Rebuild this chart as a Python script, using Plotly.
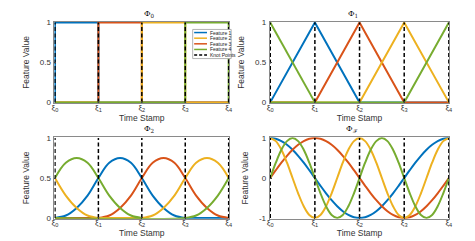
import plotly.graph_objects as go

# ---------------- data ----------------
knots = [0, 1, 2, 3, 4]
knot_labels = ["ξ<sub>0</sub>", "ξ<sub>1</sub>", "ξ<sub>2</sub>", "ξ<sub>3</sub>", "ξ<sub>4</sub>"]
feature_names = ["Feature 1", "Feature 2", "Feature 3", "Feature 4"]
feature_colors = ["#0072BD", "#EDB120", "#D95319", "#77AC30"]

# Phi_0 : piecewise constant (steps)
p0_f1_x = [0, 0, 1, 1, 4];       p0_f1_y = [0, 1, 1, 0, 0]
p0_f3_x = [0, 1, 1, 2, 2, 4];    p0_f3_y = [0, 0, 1, 1, 0, 0]
p0_f2_x = [0, 2, 2, 3, 3, 4];    p0_f2_y = [0, 0, 1, 1, 0, 0]
p0_f4_x = [0, 3, 3, 4, 4];       p0_f4_y = [0, 0, 1, 1, 0]

# Phi_1 : hat functions
p1_f1_x = [0, 1, 2, 4];          p1_f1_y = [0, 1, 0, 0]
p1_f3_x = [0, 1, 2, 3, 4];       p1_f3_y = [0, 0, 1, 0, 0]
p1_f2_x = [0, 2, 3, 4];          p1_f2_y = [0, 0, 1, 0]
p1_f4_x = [0, 1, None, 0, 3, 4]; p1_f4_y = [1, 0, None, 0, 0, 1]

# Phi_2 : quadratic splines (quarter-knot samples)
q_x = [0, 0.25, 0.5, 0.75, 1, 1.25, 1.5, 1.75, 2, 2.25, 2.5, 2.75, 3, 3.25, 3.5, 3.75, 4]
p2_f1_y = [0, .03, .125, .28, .5, .69, .75, .69, .5, .28, .125, .03, 0, 0, 0, 0, 0]
p2_f3_y = [0, 0, 0, 0, 0, .03, .125, .28, .5, .69, .75, .69, .5, .28, .125, .03, 0]
p2_f2_y = [.5, .28, .125, .03, 0, 0, 0, 0, 0, .03, .125, .28, .5, .69, .75, .69, .5]
p2_f4_x = [0, 0.25, 0.5, 0.75, 1, 1.25, 1.5, 1.75, 2, None, 0, 3, 3.25, 3.5, 3.75, 4]
p2_f4_y = [.5, .69, .75, .69, .5, .28, .125, .03, 0, None, 0, 0, .03, .125, .28, .5]

# Phi_F : Fourier features (eighth-knot samples)
e_x = [0, .125, .25, .375, .5, .625, .75, .875, 1, 1.125, 1.25, 1.375, 1.5, 1.625, 1.75, 1.875,
       2, 2.125, 2.25, 2.375, 2.5, 2.625, 2.75, 2.875, 3, 3.125, 3.25, 3.375, 3.5, 3.625, 3.75, 3.875, 4]
pF_f1_y = [1, .981, .924, .831, .707, .556, .383, .195, 0, -.195, -.383, -.556, -.707, -.831, -.924, -.981,
           -1, -.981, -.924, -.831, -.707, -.556, -.383, -.195, 0, .195, .383, .556, .707, .831, .924, .981, 1]
pF_f3_y = [0, .195, .383, .556, .707, .831, .924, .981, 1, .981, .924, .831, .707, .556, .383, .195,
           0, -.195, -.383, -.556, -.707, -.831, -.924, -.981, -1, -.981, -.924, -.831, -.707, -.556, -.383, -.195, 0]
pF_f2_y = [1, .924, .707, .383, 0, -.383, -.707, -.924, -1, -.924, -.707, -.383, 0, .383, .707, .924,
           1, .924, .707, .383, 0, -.383, -.707, -.924, -1, -.924, -.707, -.383, 0, .383, .707, .924, 1]
pF_f4_y = [0, .383, .707, .924, 1, .924, .707, .383, 0, -.383, -.707, -.924, -1, -.924, -.707, -.383,
           0, .383, .707, .924, 1, .924, .707, .383, 0, -.383, -.707, -.924, -1, -.924, -.707, -.383, 0]

titles = ["Φ<sub>0</sub>", "Φ<sub>1</sub>", "Φ<sub>2</sub>", "Φ<sub>ℱ</sub>"]
y_ticks_a = [0, 0.5, 1];  y_ticklabels_a = ["0", "0.5", "1"]
y_ticks_b = [-1, 0, 1];   y_ticklabels_b = ["-1", "0", "1"]

# ---------------- figure ----------------
W, H = 475, 241
FONT = "Liberation Sans"
BLUE, YELLOW, RED, GREEN = feature_colors

# panel pixel boxes: (left, right, top, bottom)
boxes = [(44, 221, 11, 95), (262, 444, 11, 95), (44, 221, 130, 214), (262, 444, 130, 214)]

fig = go.Figure()

panels = [
    dict(series=[(p0_f1_x, p0_f1_y, BLUE), (p0_f3_x, p0_f3_y, RED), (p0_f2_x, p0_f2_y, YELLOW), (p0_f4_x, p0_f4_y, GREEN)],
         shape="linear", yr=(0, 1), yt=(y_ticks_a, y_ticklabels_a)),
    dict(series=[(p1_f1_x, p1_f1_y, BLUE), (p1_f3_x, p1_f3_y, RED), (p1_f2_x, p1_f2_y, YELLOW), (p1_f4_x, p1_f4_y, GREEN)],
         shape="linear", yr=(0, 1), yt=(y_ticks_a, y_ticklabels_a)),
    dict(series=[(q_x, p2_f1_y, BLUE), (q_x, p2_f3_y, RED), (q_x, p2_f2_y, YELLOW), (p2_f4_x, p2_f4_y, GREEN)],
         shape="spline", yr=(0, 1), yt=(y_ticks_a, y_ticklabels_a)),
    dict(series=[(e_x, pF_f1_y, BLUE), (e_x, pF_f3_y, RED), (e_x, pF_f2_y, YELLOW), (e_x, pF_f4_y, GREEN)],
         shape="spline", yr=(-1, 1), yt=(y_ticks_b, y_ticklabels_b)),
]

axis_line = "#8a8a8a"
for i, (p, b) in enumerate(zip(panels, boxes)):
    n = "" if i == 0 else str(i + 1)
    xa, ya = "x" + n, "y" + n
    for (xs, ys, col) in p["series"]:
        fig.add_trace(go.Scatter(x=xs, y=ys, mode="lines", line=dict(color=col, width=2, shape=p["shape"]),
                                 connectgaps=False, xaxis=xa, yaxis=ya, showlegend=False, hoverinfo="skip"))
    lo, hi = p["yr"]
    kx, ky = [], []
    for k in knots:
        kx += [k, k, None]
        ky += [lo, hi, None]
    fig.add_trace(go.Scatter(x=kx, y=ky, mode="lines", line=dict(color="black", width=1.5, dash="4px,2.5px"),
                             xaxis=xa, yaxis=ya, showlegend=False, hoverinfo="skip"))
    l, r, t, bt = b
    pad = (hi - lo) / (bt - t) * 0.9
    common = dict(showline=True, mirror=True, linecolor=axis_line, linewidth=1, showgrid=False, zeroline=False,
                  ticks="inside", ticklen=2, tickcolor="#444", tickfont=dict(family=FONT, size=8, color="#333"))
    fig.layout["xaxis" + n] = dict(domain=[l / W, r / W], anchor=ya, range=[-0.012, 4.012],
                                   tickvals=knots, ticktext=knot_labels, ticklabelstandoff=-4,
                                   title=dict(text="Time Stamp", font=dict(family=FONT, size=8.5, color="#333"), standoff=0),
                                   **common)
    fig.layout["yaxis" + n] = dict(domain=[1 - bt / H, 1 - t / H], anchor=xa, range=[lo - pad, hi + pad],
                                   tickvals=p["yt"][0], ticktext=p["yt"][1], ticklabelstandoff=1,
                                   title=dict(text="Feature Value", font=dict(family=FONT, size=8.5, color="#333"), standoff=8),
                                   **common)
    fig.add_annotation(x=(l + r) / 2 / W, y=1 - (t - 1) / H, xref="paper", yref="paper", text=titles[i],
                       showarrow=False, yanchor="bottom", font=dict(family="DejaVu Serif", size=8, color="#111"))

# manual compact legend in the first panel
lg_l, lg_r, lg_t, lg_b = 184, 223, 19, 49
fig.add_shape(type="rect", xref="paper", yref="paper", x0=lg_l / W, x1=lg_r / W, y0=1 - lg_b / H, y1=1 - lg_t / H,
              fillcolor="white", line=dict(color="#a0a0a0", width=0.8), layer="above")
entries = list(zip(feature_names, feature_colors)) + [("Knot Points", "black")]
for j, (name, col) in enumerate(entries):
    yy = 1 - (22.2 + j * 5.8) / H
    fig.add_shape(type="line", xref="paper", yref="paper", x0=185.5 / W, x1=198.5 / W, y0=yy, y1=yy,
                  line=dict(color=col, width=1.5, dash="solid" if j < 4 else "3px,2px"), layer="above")
    fig.add_annotation(x=199.3 / W, y=yy, xref="paper", yref="paper", text=name, showarrow=False,
                       xanchor="left", yanchor="middle", font=dict(family=FONT, size=5, color="#222"))

fig.update_layout(width=W, height=H, margin=dict(l=0, r=0, t=0, b=0), paper_bgcolor="white", plot_bgcolor="white",
                  showlegend=False)
fig.write_html("out.html")
